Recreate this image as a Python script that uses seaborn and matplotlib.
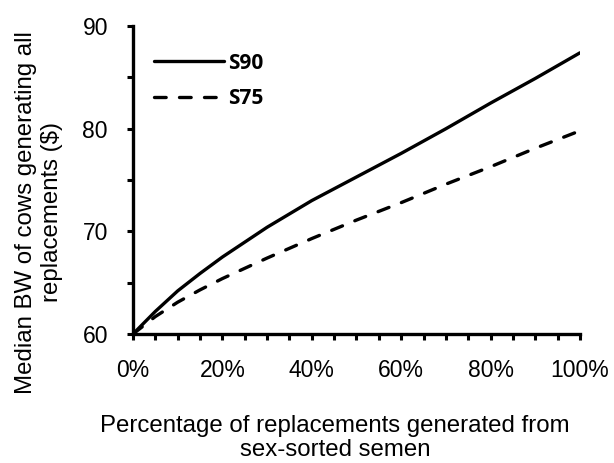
import pandas as pd
import seaborn as sns
import matplotlib.pyplot as plt
from matplotlib.ticker import MultipleLocator, PercentFormatter

# Dados
pct_sorted = [0, 5, 10, 15, 20, 30, 40, 50, 60, 70, 80, 90, 100]
bw_s90 = [60, 62.2, 64.2, 65.9, 67.5, 70.4, 73.0, 75.3, 77.6, 80.0, 82.5, 84.9, 87.4]
bw_s75 = [60, 61.7, 63.1, 64.3, 65.4, 67.4, 69.3, 71.1, 72.8, 74.6, 76.3, 78.1, 79.8]
series_names = ["S90", "S75"]

df = pd.DataFrame({
    "pct": pct_sorted * 2,
    "bw": bw_s90 + bw_s75,
    "serie": [series_names[0]] * len(pct_sorted) + [series_names[1]] * len(pct_sorted),
})

sns.set_style("ticks")
plt.rcParams["font.family"] = ["Liberation Sans", "DejaVu Sans"]
plt.rcParams["text.color"] = "black"
plt.rcParams["axes.labelcolor"] = "black"
plt.rcParams["xtick.color"] = "black"
plt.rcParams["ytick.color"] = "black"

fig = plt.figure(figsize=(6.14, 4.63), dpi=100)
ax = fig.add_axes([0.2166, 0.2786, 0.728, 0.665])

sns.lineplot(data=df, x="pct", y="bw", style="serie", color="black",
             dashes={"S90": "", "S75": (3.5, 4)}, linewidth=2.4, ax=ax)
for line in ax.get_lines():
    line.set_dash_capstyle("round")

ax.set_xlim(0, 100)
ax.set_ylim(60, 90)
ax.xaxis.set_major_locator(MultipleLocator(20))
ax.xaxis.set_minor_locator(MultipleLocator(5))
ax.yaxis.set_major_locator(MultipleLocator(10))
ax.yaxis.set_minor_locator(MultipleLocator(5))
ax.xaxis.set_major_formatter(PercentFormatter(decimals=0))

for side in ["top", "right"]:
    ax.spines[side].set_visible(False)
for side in ["left", "bottom"]:
    ax.spines[side].set_linewidth(2.4)
    ax.spines[side].set_color("black")

ax.tick_params(which="both", direction="out", length=4.5, width=2.2, color="black")
ax.tick_params(which="major", labelsize=16.5, pad=13.5)

ax.set_xlabel("Percentage of replacements generated from\nsex-sorted semen", fontsize=17.3,
              linespacing=1.15)
ax.set_ylabel("Median BW of cows generating all\nreplacements ($)", fontsize=17.3,
              linespacing=1.2)
ax.xaxis.set_label_coords(0.452, -0.262)
ax.yaxis.set_label_coords(-0.157, 0.396)

leg = ax.legend(loc="upper left", frameon=False, handlelength=3.36, handletextpad=0.2,
                bbox_to_anchor=(0.004, 0.975), labelspacing=0.7,
                prop={"family": "Open Sans", "weight": "bold", "size": 15})
for line in leg.get_lines():
    line.set_dash_capstyle("round")

fig.savefig("out.png", dpi=100)
